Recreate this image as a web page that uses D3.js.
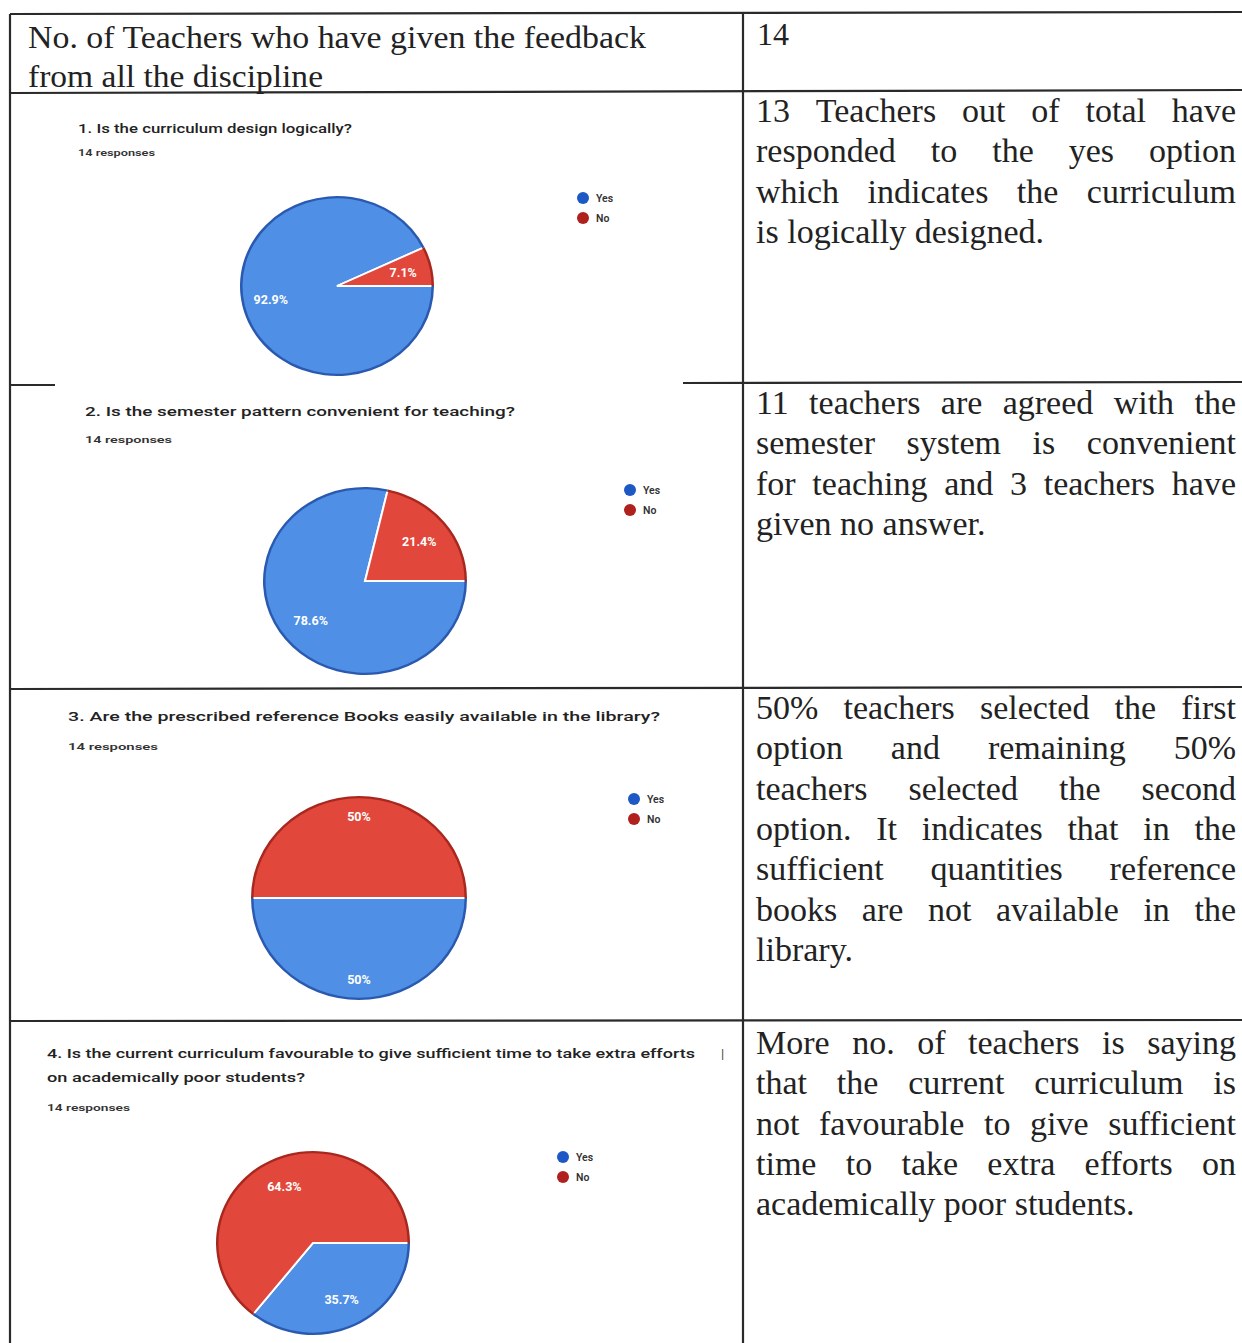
<!DOCTYPE html>
<html><head><meta charset="utf-8">
<script src="https://cdn.jsdelivr.net/npm/d3@7/dist/d3.min.js"></script>
<style>body{margin:0;background:#fff}</style>
</head><body>
<svg id="c" width="1242" height="1343"></svg>
<script>
// ---- data ----
const categories = ["Yes", "No"];
const questions = [
  ["1. Is the curriculum design logically?"],
  ["2. Is the semester pattern convenient for teaching?"],
  ["3. Are the prescribed reference Books easily available in the library?"],
  ["4. Is the current curriculum favourable to give sufficient time to take extra efforts", "on academically poor students?"]
];
const responses = ["14 responses", "14 responses", "14 responses", "14 responses"];
const yesPct = [92.9, 78.6, 50, 35.7];
const noPct = [7.1, 21.4, 50, 64.3];
const headerLeft = ["No. of Teachers who have given the feedback", "from all the discipline"];
const headerRight = "14";
const comments = [
  ["13 Teachers out of total have", "responded to the yes option", "which indicates the curriculum", "is logically designed."],
  ["11 teachers are agreed with the", "semester system is convenient", "for teaching and 3 teachers have", "given no answer."],
  ["50% teachers selected the first", "option and remaining 50%", "teachers selected the second", "option. It indicates that in the", "sufficient quantities reference", "books are not available in the", "library."],
  ["More no. of teachers is saying", "that the current curriculum is", "not favourable to give sufficient", "time to take extra efforts on", "academically poor students."]
];

// ---- layout ----
const svg = d3.select("#c");
const layout = [
  {qx: 78, qy: 133, qfs: 12.5, qw: [274], ry: 156, rw: 77, cx: 337, cy: 286, rx: 97, ryy: 90, lx: 583, ly: 198, lf: 0.7, ty: 122},
  {qx: 85, qy: 416, qfs: 13, qw: [430], ry: 443, rw: 87, cx: 365, cy: 581, rx: 102, ryy: 94, lx: 630, ly: 490, lf: 0.68, ty: 414},
  {qx: 68, qy: 721, qfs: 13.5, qw: [592], ry: 750, rw: 90, cx: 359, cy: 898, rx: 108, ryy: 102, lx: 634, ly: 799, lf: 0.8, ty: 719},
  {qx: 47, qy: 1058, qfs: 12.5, qw: [648, 258], ry: 1111, rw: 83, cx: 313, cy: 1243, rx: 97, ryy: 92, lx: 563, ly: 1157, lf: 0.68, ty: 1054}
];
const pieFill = {Yes: "#4f8fe6", No: "#e2473b"};
const rimFill = {Yes: "#2a59b0", No: "#a8281f"};
const legFill = {Yes: "#1d58c4", No: "#b0201c"};

// table lines
const ink = "#2a2a2a";
const lines = [
  [10, 14, 1242, 12], [10, 14, 10, 1343], [743, 14, 743, 1343],
  [10, 93, 1242, 90], [10, 385, 55, 385], [683, 383, 1242, 382],
  [10, 689, 1242, 687], [10, 1021, 1242, 1020]
];
svg.selectAll("line.t").data(lines).join("line")
  .attr("x1", d => d[0]).attr("y1", d => d[1]).attr("x2", d => d[2]).attr("y2", d => d[3])
  .attr("stroke", ink).attr("stroke-width", 2.2);

// header
const hw = [618, 295];
svg.selectAll("text.h").data(headerLeft).join("text")
  .attr("x", 28).attr("y", (d, i) => 48 + i * 39)
  .attr("font-family", "Liberation Serif").attr("font-size", 32).attr("fill", "#222")
  .attr("textLength", (d, i) => hw[i]).attr("lengthAdjust", "spacingAndGlyphs").text(d => d);
svg.append("text").attr("x", 757).attr("y", 45).attr("font-family", "Liberation Serif")
  .attr("font-size", 32).attr("fill", "#222").text(headerRight);

// justified comments
const colL = 756, colR = 1236, fs = 34;
comments.forEach((para, qi) => {
  para.forEach((ln, li) => {
    const y = layout[qi].ty + li * 40.3;
    const words = ln.split(" ");
    const last = li === para.length - 1;
    const g = svg.append("text").attr("y", y).attr("font-family", "Liberation Serif")
      .attr("font-size", fs).attr("fill", "#222");
    const spans = words.map(w => g.append("tspan").text(w));
    const widths = spans.map(s => s.node().getComputedTextLength());
    const total = d3.sum(widths);
    const gap = (last || words.length < 2) ? fs * 0.25 : (colR - colL - total) / (words.length - 1);
    let x = colL;
    spans.forEach((s, k) => { s.attr("x", x); x += widths[k] + gap; });
  });
});

// pies
const pie = d3.pie().sort(null).value(d => d.v).startAngle(Math.PI / 2).endAngle(Math.PI / 2 + 2 * Math.PI);
questions.forEach((q, qi) => {
  const L = layout[qi];
  svg.selectAll(null).data(q).join("text")
    .attr("x", L.qx).attr("y", (d, i) => L.qy + i * 24)
    .attr("font-family", "Roboto, Arial, sans-serif").attr("font-size", L.qfs).attr("font-weight", 500)
    .attr("fill", "#222").attr("textLength", (d, i) => L.qw[i]).attr("lengthAdjust", "spacingAndGlyphs")
    .text(d => d);
  svg.append("text").attr("x", L.qx).attr("y", L.ry)
    .attr("font-family", "Roboto, Arial, sans-serif").attr("font-size", 9.5).attr("font-weight", 600)
    .attr("fill", "#333").attr("textLength", L.rw).attr("lengthAdjust", "spacingAndGlyphs")
    .text(responses[qi]);

  const data = categories.map((c, k) => ({c, v: k === 0 ? yesPct[qi] : noPct[qi]}));
  const arcs = pie(data);
  const r = L.rx, sy = L.ryy / L.rx;
  const g = svg.append("g").attr("transform", `translate(${L.cx},${L.cy}) scale(1,${sy})`);
  const arc = d3.arc().innerRadius(0).outerRadius(r);
  const rim = d3.arc().innerRadius(r - 2.5).outerRadius(r);
  g.selectAll("path.s").data(arcs).join("path").attr("d", arc)
    .attr("fill", d => pieFill[d.data.c]).attr("stroke", "#fff").attr("stroke-width", 2);
  g.selectAll("path.r").data(arcs).join("path").attr("d", rim)
    .attr("fill", d => rimFill[d.data.c]);
  const lab = d3.arc().innerRadius(r * L.lf).outerRadius(r * L.lf);
  svg.selectAll(null).data(arcs).join("text")
    .attr("x", d => L.cx + lab.centroid(d)[0]).attr("y", d => L.cy + lab.centroid(d)[1] * sy + 4.5)
    .attr("text-anchor", "middle").attr("font-family", "Roboto, Arial, sans-serif")
    .attr("font-size", 12.5).attr("font-weight", 700).attr("fill", "#fff")
    .text(d => (d.data.v % 1 === 0 ? d.data.v : d.data.v.toFixed(1)) + "%");

  // legend
  categories.forEach((c, k) => {
    svg.append("circle").attr("cx", L.lx).attr("cy", L.ly + k * 20).attr("r", 6).attr("fill", legFill[c]);
    svg.append("text").attr("x", L.lx + 13).attr("y", L.ly + k * 20 + 4)
      .attr("font-family", "Roboto, Arial, sans-serif").attr("font-size", 10.5).attr("font-weight", 600)
      .attr("fill", "#333").text(c);
  });
});
// stray mark in Q4 title
svg.append("text").attr("x", 721).attr("y", 1058).attr("font-family", "Roboto, Arial, sans-serif")
  .attr("font-size", 13).attr("fill", "#444").text("|");
</script>
</body></html>
